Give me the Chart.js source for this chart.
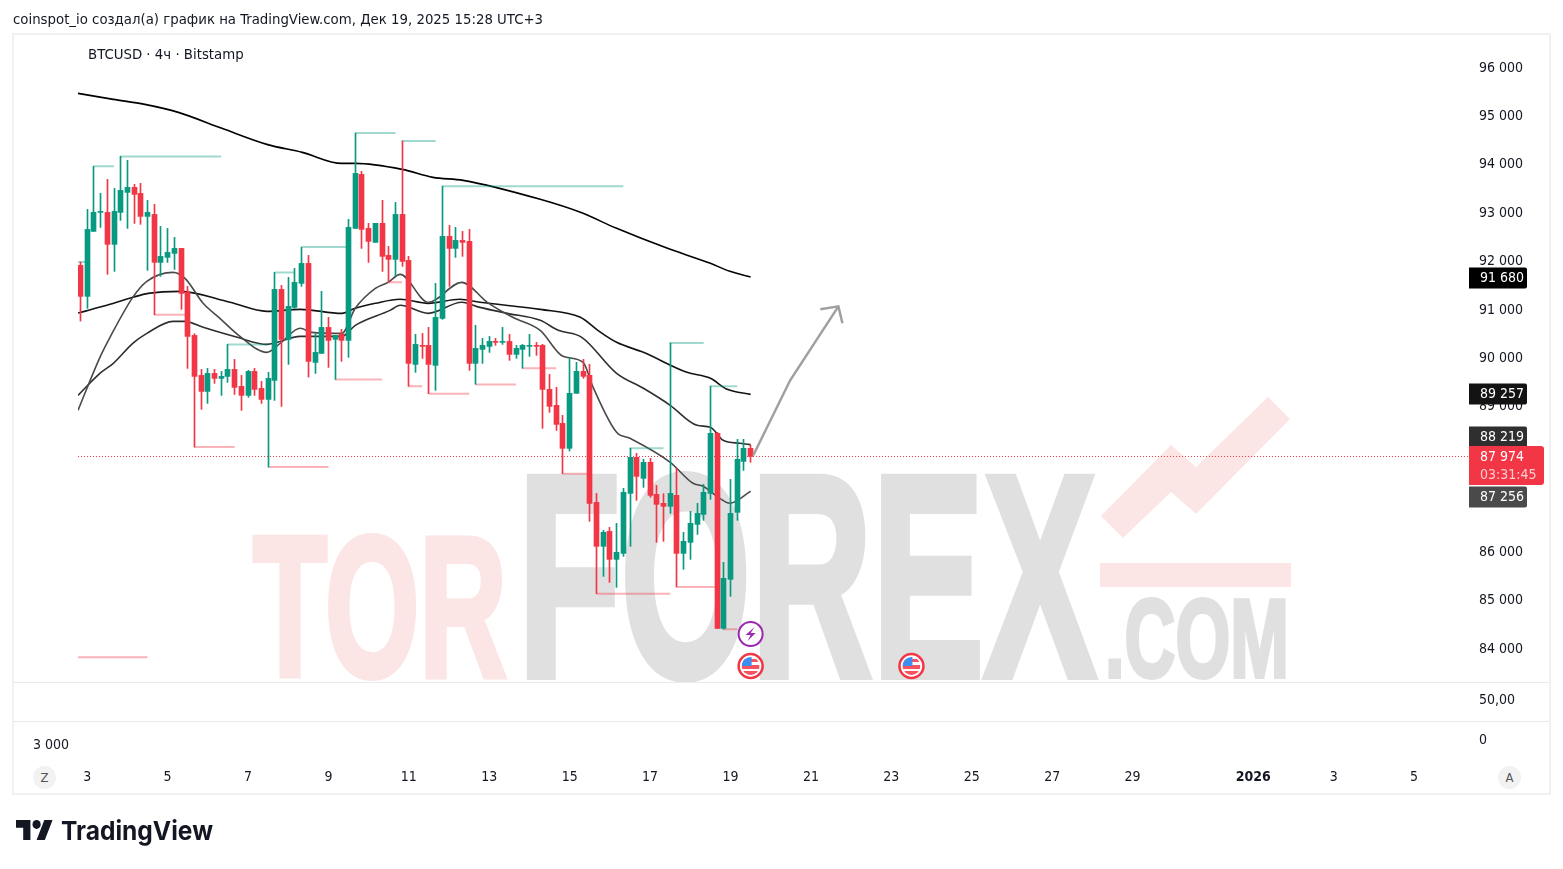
<!DOCTYPE html>
<html>
<head>
<meta charset="utf-8">
<title>BTCUSD 4h</title>
<script src="https://cdn.jsdelivr.net/npm/chart.js@4"></script>
<style>
html, body { margin: 0; padding: 0; background: #fff; overflow: hidden; }
body { width: 1563px; height: 869px; position: relative; font-family: "DejaVu Sans Condensed", "DejaVu Sans", sans-serif; color: #131722; }
#watermark { position: absolute; left: 0; top: 0; z-index: 0; }
#graph { position: absolute; left: 0; top: 0; z-index: 1; }
.frame { position: absolute; left: 12px; top: 33px; width: 1535px; height: 758px; border: 2px solid #f1f1f1; z-index: 2; pointer-events: none; }
.sep { position: absolute; left: 13px; width: 1536px; height: 1px; background: #e9e9e9; z-index: 2; }
.label { position: absolute; z-index: 3; font-size: 14px; line-height: 16px; white-space: nowrap; }
.title { font-size: 14.8px; }
.round { position: absolute; z-index: 3; width: 23px; height: 23px; border-radius: 50%; background: #f2f2f2; color: #555; font-size: 13px; line-height: 23px; text-align: center; }
#logo { position: absolute; left: 15px; top: 812px; z-index: 3; }
</style>
</head>
<body>
<svg id="watermark" width="1563" height="682" viewBox="0 0 1563 682">
  <g font-family="'Liberation Sans Narrow', 'Liberation Sans', sans-serif" font-weight="700" stroke-linejoin="miter">
    <text x="253" y="676" font-size="200" fill="#fbe6e5" stroke="#fbe6e5" stroke-width="6" textLength="254" lengthAdjust="spacingAndGlyphs">TOR</text>
    <text x="518" y="676" font-size="288" fill="#e0e0e0" stroke="#e0e0e0" stroke-width="8" textLength="578" lengthAdjust="spacingAndGlyphs">FOREX</text>
    <text x="1105" y="677" font-size="112" fill="#e0e0e0" stroke="#e0e0e0" stroke-width="4" textLength="184" lengthAdjust="spacingAndGlyphs">.COM</text>
  </g>
  <polygon points="1268,397 1290,419 1196,514 1171,492 1123,538 1101,516 1171,445 1196,467" fill="#fbe6e5"/>
  <rect x="1100" y="563" width="191" height="24" fill="#fbe6e5"/>
</svg>
<canvas id="graph" width="1563" height="869"></canvas>
<div class="frame"></div>
<div class="sep" style="top:682px"></div>
<div class="sep" style="top:721px"></div>
<div class="label title" style="left:13px;top:11px">coinspot_io создал(а) график на TradingView.com, Дек 19, 2025 15:28 UTC+3</div>
<div class="label title" style="left:88px;top:46px">BTCUSD · 4ч · Bitstamp</div>
<div class="label" style="left:1479px;top:691px">50,00</div>
<div class="label" style="left:1479px;top:731px">0</div>
<div class="label" style="left:33px;top:736px">3 000</div>
<div class="round" style="left:33px;top:766px">Z</div>
<div class="round" style="left:1498px;top:766px">A</div>
<svg id="logo" width="210" height="38" viewBox="0 0 210 38">
  <g transform="translate(1,-1) scale(1.03,1.12)">
    <path d="M14 26H7V15H0V8h14v18ZM28 26h-8l7.5-18h8L28 26Z" fill="#131722"/>
    <circle cx="20" cy="12" r="4" fill="#131722"/>
  </g>
  <text x="46" y="28" font-family="Inter, Roboto, sans-serif" font-weight="700" font-size="26" fill="#131722" textLength="152" lengthAdjust="spacingAndGlyphs">TradingView</text>
</svg>

<script>
// 4h candles, bar 0 is the first one on the left
const opens = [91921, 91281, 92623, 93016, 93016, 92355, 93016, 93429, 93532, 93408,
    92933, 92974, 91983, 92086, 92169, 92272, 91370, 90475, 89649, 89318,
    89690, 89587, 89628, 89773, 89422, 89236, 89731, 89380, 89153, 89545,
    91425, 90392, 91053, 91549, 91962, 89917, 90103, 90640, 90393, 90503,
    90372, 92685, 93801, 92685, 92396, 92789, 92128, 92045, 92974, 92024,
    89876, 90269, 90269, 89856, 90826, 92520, 92272, 92437, 92417, 89897,
    90186, 90248, 90351, 90331, 90351, 90083, 90186, 90248, 90269, 90269,
    89360, 89030, 88658, 88142, 89278, 89732, 89650, 87026, 86118, 86427,
    85849, 85973, 87212, 87956, 87522, 87853, 87192, 87006, 86944, 87171,
    85973, 86200, 86572, 86778, 87212, 88452, 84424, 85436, 86820, 87873,
    88142];
const highs = [91990, 93078, 93966, 93408, 93697, 93511, 94172, 94090, 93594, 93615,
    93263, 93181, 92726, 92685, 92499, 92272, 91487, 90509, 89773, 89793,
    89773, 89731, 90289, 89979, 89649, 89752, 89793, 89525, 89711, 91776,
    91508, 91673, 91859, 92293, 92127, 90510, 91384, 90847, 90475, 90599,
    92871, 94654, 93863, 92789, 92789, 93264, 92313, 93222, 94489, 92107,
    90496, 90516, 90640, 91549, 93553, 92747, 92706, 92623, 92665, 90682,
    90413, 90455, 90413, 90640, 90496, 90269, 90289, 90496, 90331, 90290,
    89670, 89402, 88823, 90014, 89918, 89980, 89877, 87212, 86448, 86510,
    86593, 87316, 88142, 88038, 87915, 87935, 87377, 87205, 90317, 87729,
    86407, 86840, 87006, 87398, 89422, 88472, 85787, 87501, 88328, 88328,
    88204];
const lows = [90771, 91033, 92623, 92706, 91735, 91797, 92850, 92685, 92788, 92768,
    91818, 90902, 91694, 91983, 91838, 91012, 89793, 88168, 88947, 89070,
    89484, 89236, 89504, 89256, 88926, 89194, 89236, 89070, 87755, 89132,
    89008, 89876, 91033, 91487, 89614, 89690, 90103, 89814, 89566, 89938,
    90021, 92685, 92272, 91983, 92396, 91797, 91570, 91694, 91900, 89422,
    89711, 90000, 89270, 89339, 90806, 91487, 92086, 92107, 89752, 89463,
    89897, 90124, 90269, 90289, 89959, 90000, 89794, 90041, 90063, 88555,
    88885, 88513, 87618, 88087, 89278, 89588, 86634, 85140, 85498, 85374,
    85271, 85911, 86118, 87068, 87336, 87130, 86200, 86221, 86799, 85278,
    85643, 85849, 86365, 86655, 87088, 84424, 84403, 85085, 86655, 87687,
    87853];
const closes = [91281, 92664, 93016, 93036, 92355, 93036, 93470, 93532, 93387, 92933,
    93016, 91983, 92107, 92189, 92272, 91342, 90454, 89628, 89318, 89690,
    89587, 89628, 89773, 89401, 89236, 89731, 89360, 89153, 89587, 91425,
    90392, 91074, 91570, 91962, 89938, 90124, 90640, 90372, 90475, 90372,
    92706, 93821, 92665, 92417, 92789, 92107, 92045, 92974, 92004, 89897,
    90289, 90248, 89876, 90847, 92520, 92272, 92437, 92396, 89897, 90207,
    90269, 90351, 90331, 90351, 90083, 90207, 90269, 90269, 90248, 89360,
    89009, 88637, 88142, 89278, 89732, 89629, 87006, 86118, 86407, 85849,
    85994, 87233, 87956, 87563, 87853, 87171, 86985, 86944, 87212, 85973,
    86221, 86593, 86799, 87233, 88452, 84424, 85457, 86799, 87915, 88142,
    87974];

const maSlowBars = [-0.37, 4.9, 9.6, 14.6, 21.1, 27.8, 33.1, 39, 41, 48, 52.6, 57.1, 68.6, 74.6, 80, 87.2, 94, 96.9, 100];
const maSlowValues = [95473, 95350, 95246, 95081, 94751, 94420, 94255, 94028, 94028, 93904, 93739, 93677, 93285, 93016, 92686, 92293, 91963, 91798, 91680];
const maMidBars = [-0.37, 4.4, 7.8, 10.1, 14.9, 22.3, 27.8, 32.8, 39, 41, 44, 47.7, 51.9, 56.6, 59.6, 68.6, 74.6, 77.2, 80, 84, 90.5, 94, 96.5, 100];
const maMidValues = [90937, 91116, 91261, 91343, 91385, 91158, 90972, 91013, 90930, 91034, 91137, 91220, 91137, 91220, 91158, 91013, 90848, 90579, 90332, 90125, 89712, 89588, 89361, 89257];
const maFastBars = [-0.37, 2.9, 4.9, 7.8, 9.9, 13.8, 15.6, 18.3, 23.4, 27.8, 32.8, 39, 41, 46.2, 47.7, 51.9, 56.9, 59.6, 63.7, 68.6, 71.3, 74.8, 80, 84, 88, 92, 94, 95.9, 98.4, 100];
const maFastValues = [89237, 89691, 89898, 90311, 90517, 90765, 90765, 90641, 90435, 90290, 90455, 90455, 90683, 90992, 91096, 90930, 91158, 91054, 90930, 90786, 90579, 90435, 89691, 89382, 89031, 88618, 88576, 88308, 88246, 88219];
const maShortBars = [-0.37, 2.9, 4.4, 7.8, 9.9, 13.8, 15.6, 18.3, 20.8, 23.8, 27.8, 29.8, 32.8, 34.5, 39, 41, 44, 45.9, 47.7, 51.9, 56.9, 60.7, 64.5, 68.6, 72, 75, 76.5, 80, 82, 88, 91.4, 92.9, 95.4, 96.9, 100];
const maShortValues = [88927, 90022, 90435, 91261, 91591, 91777, 91653, 91137, 90827, 90455, 90125, 90311, 90621, 90538, 90517, 91034, 91447, 91571, 91736, 91158, 91571, 91158, 90848, 90579, 90043, 89919, 89402, 88473, 88349, 87854, 87420, 87358, 87110, 87007, 87256];

// swing levels: first bar, last bar, price
const highLevelStart = [-0.37, 1.9, 5.9, 21.9, 28.9, 32.9, 41, 47.9, 53.9, 81.9, 87.9, 93.9];
const highLevelEnd = [0.7, 5, 21, 28, 32, 40, 47, 53, 81, 87, 93, 98];
const highLevelPrice = [91990, 93966, 94172, 90289, 91776, 92300, 94654, 94489, 93553, 88142, 90317, 89422];
const lowLevelStart = [-0.37, 11, 17, 28, 38, 46, 49, 52, 59, 66, 72, 77, 89, 96];
const lowLevelEnd = [10, 15.6, 23, 37, 45, 48, 51, 58, 65, 71, 76, 88, 95, 98];
const lowLevelPrice = [83827, 90902, 88168, 87755, 89566, 91570, 89422, 89270, 89463, 89794, 87618, 85140, 85278, 84403];

// hand drawn arrow
const arrowBars = [100.4, 105.9, 113.1];
const arrowPrices = [87998, 89547, 91075];
const arrowHeadBars = [110.4, 113.1, 113.7];
const arrowHeadPrices = [91013, 91075, 90724];

const xTickBars = [1, 13, 25, 37, 49, 61, 73, 85, 97, 109, 121, 133, 145, 157, 175, 187, 199];
const xTickLabels = ['3', '5', '7', '9', '11', '13', '15', '17', '19', '21', '23', '25', '27', '29', '2026', '3', '5'];
const yTicks = [84000, 85000, 86000, 87000, 88000, 89000, 90000, 91000, 92000, 93000, 94000, 95000, 96000];

const maTagValues = [91680, 89257, 88219, 87256];
const maColors = ['#000000', '#131313', '#2f2f2f', '#4a4a4a'];
const countdown = '03:31:45';
const eventBars = [100, 124];

const UP = '#089981';
const DOWN = '#F23645';
const AXIS_FONT = { family: '"DejaVu Sans Condensed", "DejaVu Sans", sans-serif', size: 14 };
// the axis labels push each other apart when they would overlap
const TAG_SHIFT = [1, 0, -8, 6];

function pairUp(bars, values) {
    return bars.map((b, i) => ({ x: b, y: values[i] }));
}

function levelSegments(starts, ends, prices) {
    const out = [];
    starts.forEach((s, i) => {
        out.push({ x: s, y: prices[i] }, { x: ends[i], y: prices[i] }, { x: ends[i], y: null });
    });
    return out;
}

function formatPrice(v) {
    return String(v).replace(/\B(?=(\d{3})+$)/g, ' ');
}

function candleColor(ctx) {
    return closes[ctx.dataIndex] >= opens[ctx.dataIndex] ? UP : DOWN;
}

function lineSet(data, color, width, extra) {
    return Object.assign({
        type: 'line', data: data, borderColor: color, borderWidth: width,
        pointRadius: 0, tension: 0, order: 5, spanGaps: false
    }, extra || {});
}

function maSet(bars, values, color) {
    return lineSet(pairUp(bars, values), color, 1.6, { cubicInterpolationMode: 'monotone' });
}

// keeps candles on whole pixels so the wicks stay sharp
const pixelSnap = {
    id: 'pixelSnap',
    afterDatasetsUpdate(chart) {
        chart.data.datasets.forEach((ds, i) => {
            if (ds.type !== 'bar') return;
            chart.getDatasetMeta(i).data.forEach(el => { el.x = Math.floor(el.x) + 0.5; });
        });
    }
};

function drawFlag(ctx, x, y) {
    ctx.save();
    ctx.beginPath();
    ctx.arc(x, y, 12, 0, Math.PI * 2);
    ctx.fillStyle = '#fff';
    ctx.fill();
    ctx.lineWidth = 2.5;
    ctx.strokeStyle = DOWN;
    ctx.stroke();
    ctx.beginPath();
    ctx.arc(x, y, 9, 0, Math.PI * 2);
    ctx.clip();
    ctx.fillStyle = '#f7525f';
    ctx.fillRect(x - 9, y - 7, 18, 3);
    ctx.fillRect(x - 9, y - 1, 18, 4);
    ctx.fillRect(x - 9, y + 5, 18, 4);
    ctx.fillStyle = '#3d8ef0';
    ctx.fillRect(x - 9, y - 9, 10, 9);
    ctx.restore();
}

function drawBolt(ctx, x, y) {
    ctx.save();
    ctx.beginPath();
    ctx.arc(x, y, 12, 0, Math.PI * 2);
    ctx.fillStyle = '#fff';
    ctx.fill();
    ctx.lineWidth = 2;
    ctx.strokeStyle = '#9c27b0';
    ctx.stroke();
    ctx.beginPath();
    ctx.moveTo(x + 4, y - 7);
    ctx.lineTo(x - 5, y + 1);
    ctx.lineTo(x, y + 1);
    ctx.lineTo(x - 3, y + 7);
    ctx.lineTo(x + 5, y - 1);
    ctx.lineTo(x, y - 1);
    ctx.closePath();
    ctx.fillStyle = '#9c27b0';
    ctx.fill();
    ctx.restore();
}

const overlays = {
    id: 'overlays',
    afterDraw(chart) {
        const ctx = chart.ctx;
        const yScale = chart.scales.y;
        const xScale = chart.scales.x;
        const area = chart.chartArea;
        const left = area.right;

        drawBolt(ctx, xScale.getPixelForValue(eventBars[0]), area.bottom - 48);
        eventBars.forEach(b => drawFlag(ctx, xScale.getPixelForValue(b), area.bottom - 16));

        ctx.save();
        ctx.font = '14px ' + AXIS_FONT.family;
        ctx.textBaseline = 'middle';
        ctx.textAlign = 'left';

        maTagValues.forEach((v, i) => {
            const y = Math.round(yScale.getPixelForValue(v)) + TAG_SHIFT[i];
            ctx.fillStyle = maColors[i];
            ctx.beginPath();
            ctx.roundRect(left, y - 10.5, 58, 21, [0, 2, 2, 0]);
            ctx.fill();
            ctx.fillStyle = '#fff';
            ctx.fillText(formatPrice(v), left + 11, y + 0.5);
        });

        const last = closes[closes.length - 1];
        const y = Math.round(yScale.getPixelForValue(last));
        ctx.fillStyle = DOWN;
        ctx.beginPath();
        ctx.roundRect(left, y - 10, 75, 39, [0, 3, 3, 0]);
        ctx.fill();
        ctx.fillStyle = '#fff';
        ctx.fillText(formatPrice(last), left + 11, y + 1);
        ctx.fillStyle = 'rgba(255,255,255,0.75)';
        ctx.fillText(countdown, left + 11, y + 19);
        ctx.restore();
    }
};

function createChart() {
    const ctx = document.getElementById('graph').getContext('2d');
    const bars = opens.map((o, i) => i);
    const lastBar = bars[bars.length - 1];

    new Chart(ctx, {
        type: 'bar',
        data: {
            datasets: [
                {
                    type: 'bar', order: 1, barThickness: 5, backgroundColor: candleColor,
                    data: bars.map(i => ({ x: i, y: [opens[i], closes[i]] }))
                },
                {
                    type: 'bar', order: 2, barThickness: 1, backgroundColor: candleColor,
                    data: bars.map(i => ({ x: i, y: [lows[i], highs[i]] }))
                },
                lineSet(levelSegments(highLevelStart, highLevelEnd, highLevelPrice), 'rgba(8,153,129,0.38)', 2),
                lineSet(levelSegments(lowLevelStart, lowLevelEnd, lowLevelPrice), 'rgba(242,54,69,0.38)', 2),
                maSet(maShortBars, maShortValues, maColors[3]),
                maSet(maFastBars, maFastValues, maColors[2]),
                maSet(maMidBars, maMidValues, maColors[1]),
                maSet(maSlowBars, maSlowValues, maColors[0]),
                lineSet(pairUp(arrowBars, arrowPrices), '#a0a0a0', 2.5, { order: 0 }),
                lineSet(pairUp(arrowHeadBars, arrowHeadPrices), '#a0a0a0', 2.5, { order: 0 }),
                lineSet([{ x: -0.37, y: closes[lastBar] }, { x: 207.2, y: closes[lastBar] }], DOWN, 1, { borderDash: [1, 2], order: 6 })
            ]
        },
        options: {
            responsive: false,
            animation: false,
            grouped: false,
            layout: { padding: { left: 78, top: 34, right: 0, bottom: 75 } },
            plugins: {
                legend: { display: false },
                tooltip: { enabled: false }
            },
            scales: {
                x: {
                    type: 'linear',
                    offset: false,
                    min: -0.373,
                    max: 207.2,
                    grid: { display: false, drawTicks: false },
                    border: { display: false },
                    afterBuildTicks: s => { s.ticks = xTickBars.map(v => ({ value: v })); },
                    afterFit: s => { s.height = 112; s.paddingLeft = 0; s.paddingRight = 0; },
                    ticks: {
                        autoSkip: false,
                        maxRotation: 0,
                        padding: 87,
                        color: '#131722',
                        font: c => c.tick && c.tick.value === 175 ? Object.assign({}, AXIS_FONT, { weight: 'bold' }) : AXIS_FONT,
                        callback: v => xTickLabels[xTickBars.indexOf(v)]
                    }
                },
                y: {
                    position: 'right',
                    min: 83316,
                    max: 96700,
                    grid: { display: false, drawTicks: false },
                    border: { display: false },
                    afterBuildTicks: s => { s.ticks = yTicks.map(v => ({ value: v })); },
                    afterFit: s => { s.width = 94; s.paddingTop = 0; s.paddingBottom = 0; },
                    ticks: {
                        padding: 10,
                        color: '#131722',
                        font: AXIS_FONT,
                        callback: v => formatPrice(v)
                    }
                }
            }
        },
        plugins: [pixelSnap, overlays]
    });
}

document.addEventListener('DOMContentLoaded', createChart);
</script>
</body>
</html>
